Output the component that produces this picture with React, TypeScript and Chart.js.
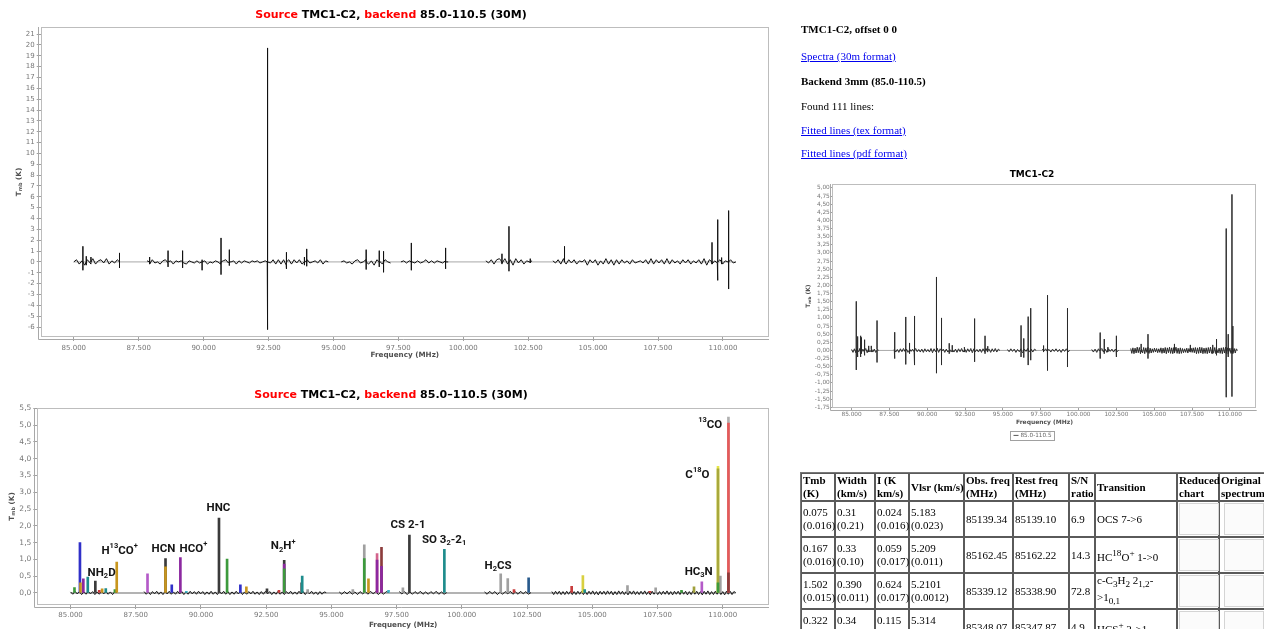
import React, { useEffect, useRef } from 'react';
import { Chart, registerables } from 'chart.js';

Chart.register(...registerables);

// ---------------- data ----------------
const segmentStart = [85000, 87820, 95300, 97600, 100870, 103450];
const segmentEnd = [86780, 94800, 97200, 99420, 102650, 110500];

const baselineFreq = [85000, 110500];
const baselineTemp = [0, 0];

// tick values
const freqTicks = [85000, 87500, 90000, 92500, 95000, 97500, 100000, 102500, 105000, 107500, 110000];
const chart1TempTicks = [-6, -5, -4, -3, -2, -1, 0, 1, 2, 3, 4, 5, 6, 7, 8, 9, 10, 11, 12, 13, 14, 15, 16, 17, 18, 19, 20, 21];
const chart2TempTicks = [0, 0.5, 1, 1.5, 2, 2.5, 3, 3.5, 4, 4.5, 5, 5.5];
const chart3TempTicks = [-1.75, -1.5, -1.25, -1, -0.75, -0.5, -0.25, 0, 0.25, 0.5, 0.75, 1, 1.25, 1.5, 1.75, 2, 2.25, 2.5, 2.75, 3, 3.25, 3.5, 3.75, 4, 4.25, 4.5, 4.75, 5];

// chart 1 (full spectrum, -6..21 K)
const chart1Noise = [
  [0, .2, -.2, .1, -.3, .2, -.1, .3, -.2, .1, .2, -.1, .3, -.2, .1, -.1, .2, 0],
  [.1, -.2, .2, -.1, 0, -.2, .1, .2, -.1, .1, -.2, .1, 0, .1, -.1, -.2, .1, 0, -.1, .1, -.1, 0, .1, -.2, 0, -.1, .1, 0, -.2, .1, .2, -.1, 0, .1, -.2, .1, -.1, .1, 0, -.1, .1, 0, .1, -.1, 0, .1, 0, -.1, .2, -.2, .2, -.2, .2, -.3, .2, -.2, .2, -.1, .2, -.2, .1, .2, -.1, 0, .1, -.1, .2, -.2, .1, 0],
  [0, .1, -.1, 0, -.2, .1, .2, -.1, 0, .2, -.2, .1, -.3, .2, .1, -.2, .2, 0, -.1],
  [0, .1, -.1, .1, 0, -.1, .1, -.1, 0, .2, -.1, .1, -.1, .1, 0, -.1, .1, 0],
  [.1, -.1, .2, -.2, .2, .3, -.1, .3, -.2, .2, -.3, .3, -.1, .2, -.2, .1, 0, .1],
  [.1, -.1, .2, -.2, .3, -.2, .2, -.1, .2, -.2, .1, 0, .2, -.3, .2, -.1, .2, -.3, .1, -.2, .3, -.2, .2, -.3, .2, -.2, .2, -.1, .1, -.2, .2, -.1, 0, .1, -.1, .2, -.2, .3, -.2, .2, -.1, .2, -.2, .3, -.2, .2, -.1, .1, -.2, .2, -.1, .2, -.2, .1, -.1, .2, -.2, .3, -.3, .2, -.2, .1, -.1, .2, -.2, .1, 0, .2, -.1, 0],
];
const chart1SpikeFreq = [85350, 85480, 85660, 86760, 87920, 88630, 89190, 89940, 90670, 90990, 92450, 92470, 93190, 93880, 93970, 96260, 96760, 96930, 98000, 99320, 101490, 101760, 102580, 103900, 109580, 109800, 109950, 110220];
const chart1SpikeHigh = [1.44, 0.52, 0.45, 0.83, 0.45, 1.04, 1.04, 0.2, 2.21, 1.13, 19.72, 2.3, 0.89, 0.45, 1.2, 1.13, 1.04, 0.98, 1.75, 1.29, 0.75, 3.28, 0.3, 1.44, 1.8, 3.9, 0.4, 4.73];
const chart1SpikeLow = [-0.77, -0.3, -0.2, -0.55, -0.2, -0.46, -0.55, -0.77, -1.17, -0.34, -6.24, -5.9, -0.64, -0.3, -0.4, -0.7, -0.46, -0.96, -0.77, -0.64, -0.2, -0.86, -0.1, 0, 0, -1.7, -0.2, -2.5];

// chart 2 (fitted lines)
const chart2Noise = [
  [.03, -.04, .05, -.03, .04, -.05, .03, -.04, .05, -.03, .04, -.05, .03, -.04, .05, -.03, .04, -.04, .03, -.05, .04, .01],
  [.04, -.04, .03, -.05, .04, -.03, .05, -.04, .03, -.05, .04, -.03, .05, -.04, .03, -.04, .05, -.03, .04, -.05, .03, -.04, .05, -.03, .04, -.04, .05, -.03, .04, -.05, .03, -.04, .05, -.04, .03, -.05, .04, -.03, .05, -.04, .04, -.05, .03, -.04, .05, -.03, .04, -.05, .03, -.04, .04, -.03, .05, -.04, .03, -.05, .04, -.04, .05, -.03, .04, -.05, .03, -.04, .05, -.04, .03, -.05, .04, -.03, .05, -.04, .03, -.04, .05, -.03, .04, -.05, .04, -.03, .05, -.04, .03, -.05, .04, -.04, .03, .01],
  [.03, -.04, .04, -.03, .05, -.04, .03, -.05, .04, -.03, .04, -.04, .05, -.03, .04, -.05, .03, -.04, .04, .01],
  [.04, -.03, .04, -.05, .03, -.04, .04, -.03, .05, -.04, .03, -.04, .04, -.03, .05, -.04, .03, -.04, .01],
  [.03, -.04, .05, -.03, .04, -.05, .03, -.04, .04, -.03, .05, -.04, .03, -.04, .05, -.03, .04, -.04, .01],
  [.04, -.05, .05, -.04, .05, -.05, .04, -.05, .05, -.04, .05, -.05, .04, -.05, .05, -.04, .05, -.05, .04, -.05, .05, -.04, .06, -.05, .04, -.06, .05, -.04, .05, -.05, .06, -.04, .05, -.06, .04, -.05, .06, -.04, .05, -.05, .04, -.06, .05, -.04, .06, -.05, .04, -.05, .05, -.04, .06, -.05, .04, -.06, .05, -.04, .05, -.05, .04, -.05, .05, -.04, .06, -.05, .04, -.06, .05, -.04, .05, -.05, .06, -.04, .05, -.06, .04, -.05, .06, -.04, .05, -.05, .04, -.06, .05, -.04, .06, -.05, .04, -.05, .05, -.04, .06, -.05, .04, -.06, .05, -.04, .05, -.05, .04, .01],
];
const fitFreq = [85150, 85360, 85380, 85490, 85660, 85950, 86100, 86210, 86350, 86700, 86770, 87950, 88640, 88880, 89210, 89440, 90690, 91000, 91510, 91740, 92530, 92990, 93190, 93860, 93880, 94090, 95820, 96260, 96420, 96750, 96920, 97190, 97740, 97990, 99330, 101490, 101760, 102000, 102560, 104210, 104640, 104710, 106350, 107210, 107430, 108420, 108900, 109200, 109820, 109910, 110220];
const fitPeak = [0.16, 1.50, 0.30, 0.42, 0.47, 0.35, 0.08, 0.12, 0.13, 0.10, 0.92, 0.57, 1.02, 0.24, 1.05, 0.05, 2.23, 1.01, 0.24, 0.18, 0.12, 0.08, 0.97, 0.30, 0.50, 0.10, 0.10, 1.43, 0.42, 1.17, 1.36, 0.08, 0.15, 1.72, 1.30, 0.57, 0.43, 0.10, 0.45, 0.20, 0.52, 0.10, 0.22, 0.05, 0.15, 0.08, 0.18, 0.33, 3.77, 0.50, 5.24];
const fitInnerFreq = [88640, 93190, 96260, 96750, 96920, 109820, 110220];
const fitInnerPeak = [0.78, 0.86, 1.02, 0.98, 0.79, 3.70, 5.06];
const fitCoreFreq = [93190, 109820, 110220];
const fitCorePeak = [0.72, 0.30, 0.60];

const labelText = ['NH_2D', 'H^13CO^+', 'HCN', 'HCO^+', 'HNC', 'N_2H^+', 'CS 2-1', 'SO 3_2-2_1', 'H_2CS', 'HC_3N', 'C^18O', '^13CO'];
const labelFreq = [86190, 86880, 88560, 89710, 90670, 93150, 97940, 99320, 101390, 109080, 109030, 109520];
const labelTemp = [0.6, 1.26, 1.31, 1.31, 2.53, 1.38, 2.02, 1.58, 0.81, 0.62, 3.51, 5.0];

// chart 3 (small TMC1-C2)
const chart3Noise = [
  [.03, -.06, .05, -.07, .06, -.04, .07, -.06, .04, -.05, .06, -.07, .05, -.04, .06, -.05, .04, -.06, .05, 0],
  [.04, -.05, .03, -.06, .05, -.04, .06, -.03, .04, -.06, .05, -.03, .04, -.05, .06, -.04, .03, -.05, .04, -.06, .05, -.04, .03, -.05, .06, -.07, .05, -.04, .07, -.06, .05, -.03, .04, -.06, .04, -.05, .06, -.04, .03, -.05, .04, -.06, .05, -.04, .06, -.05, .07, -.06, .05, -.04, .06, -.07, .05, -.04, .03, -.05, .04, -.06, .05, -.04, .06, -.05, .04, -.06, .05, -.04, .06, -.05, .04, 0],
  [.03, -.04, .05, -.03, .04, -.06, .03, -.04, .05, -.07, .04, -.03, .06, -.05, .04, -.05, .04, 0],
  [.04, -.03, .05, -.04, .03, -.05, .04, -.03, .05, -.04, .03, -.06, .04, -.03, .05, -.04, 0],
  [.03, -.05, .04, -.06, .05, -.04, .06, -.05, .04, -.06, .05, -.03, .04, -.05, .04, -.05, 0],
  [.06, -.09, .08, -.1, .07, -.08, .1, -.07, .09, -.1, .06, -.08, .09, -.1, .08, -.06, .1, -.09, .07, -.08, .05, -.06, .07, -.05, .06, -.07, .05, -.06, .08, -.09, .07, -.08, .09, -.1, .08, -.07, .1, -.09, .08, -.1, .09, -.08, .1, -.09, .07, -.1, .08, -.09, .06, -.07, .05, -.06, .07, -.08, .06, -.05, .07, -.06, .08, -.07, .09, -.1, .08, -.09, .1, -.08, .09, -.1, .07, -.09, .08, -.1, .09, -.08, .1, -.09, .08, -.07, .09, -.1, .06, -.08, .07, -.09, .08, -.1, .09, -.08, .1, -.09, .08, -.1, .07, -.09, .08, -.07, .06, -.08, .05, 0],
];
const chart3SpikeFreq = [85310, 85400, 85600, 85650, 85860, 86130, 86300, 86680, 87850, 88580, 88830, 89160, 90610, 90940, 91450, 91650, 92450, 93130, 93820, 94000, 96200, 96380, 96670, 96840, 97680, 97950, 99270, 101430, 101700, 101940, 102490, 104130, 104590, 106330, 107390, 108870, 109110, 109750, 109880, 110140, 110200];
const chart3SpikeHigh = [1.51, 0.43, 0.45, 0.4, 0.33, 0.14, 0.14, 0.92, 0.56, 1.03, 0.23, 1.06, 2.26, 1.0, 0.22, 0.16, 0.1, 0.98, 0.45, 0.13, 0.77, 0.37, 1.04, 1.3, 0.15, 1.7, 1.3, 0.55, 0.35, 0.1, 0.45, 0.2, 0.5, 0.2, 0.17, 0.17, 0.35, 3.75, 0.5, 4.8, 0.75];
const chart3SpikeLow = [-0.6, -0.2, -0.2, -0.1, -0.15, -0.05, -0.05, -0.37, -0.25, -0.43, -0.1, -0.45, -0.7, -0.45, -0.1, -0.05, -0.05, -0.35, -0.1, -0.05, -0.2, -0.22, -0.45, -0.3, -0.05, -0.62, -0.51, -0.25, -0.1, -0.05, -0.2, -0.05, -0.25, -0.05, -0.05, -0.1, -0.15, -1.44, -0.2, -1.42, -0.1];

// table
const tableHeaders = [['Tmb', '(K)'], ['Width', '(km/s)'], ['I (K', 'km/s)'], ['Vlsr (km/s)'], ['Obs. freq', '(MHz)'], ['Rest freq', '(MHz)'], ['S/N', 'ratio'], ['Transition'], ['Reduced', 'chart'], ['Original', 'spectrum']];
const rowTmb = ['0.075', '0.167', '1.502', '0.322'];
const rowTmbErr = ['(0.016)', '(0.016)', '(0.015)', '(0.015)'];
const rowWidth = ['0.31', '0.33', '0.390', '0.34'];
const rowWidthErr = ['(0.21)', '(0.10)', '(0.011)', '(0.05)'];
const rowInt = ['0.024', '0.059', '0.624', '0.115'];
const rowIntErr = ['(0.016)', '(0.017)', '(0.017)', '(0.015)'];
const rowVlsr = ['5.183', '5.209', '5.2101', '5.314'];
const rowVlsrErr = ['(0.023)', '(0.011)', '(0.0012)', '(0.005)'];
const rowObs = ['85139.34', '85162.45', '85339.12', '85348.07'];
const rowRest = ['85139.10', '85162.22', '85338.90', '85347.87'];
const rowSN = ['6.9', '14.3', '72.8', '4.9'];
const rowTransition = ['OCS 7->6', 'HC^18O^+ 1->0', 'c-C_3H_2 2_1,2->1_0,1', 'HCS^+ 2->1'];

// ---------------- styles ----------------
const RED = '#ff0000';
const SANS = 'DejaVu Sans';
const SERIF = '"Liberation Serif", "Times New Roman", serif';
const fitColors = ['#3c9a3c', '#3030c8', '#c8961e', '#8c28a0', '#1e8c8c', '#3a3a3a', '#c83c3c', '#c8961e', '#1e8c8c', '#3c9a3c', '#c8961e', '#b45ac8', '#3a3a3a', '#3030c8', '#8c28a0', '#3cb4c8', '#3a3a3a', '#3c9a3c', '#3030c8', '#c8961e', '#3a3a3a', '#c83c3c', '#3a3a3a', '#3a3a3a', '#1e8c8c', '#a0a0a0', '#a0a0a0', '#a0a0a0', '#c8961e', '#d2648c', '#8c3c3c', '#3cb4c8', '#a0a0a0', '#3a3a3a', '#1e8c8c', '#a0a0a0', '#a0a0a0', '#c83c3c', '#285a8c', '#c83c3c', '#d8d040', '#1e8c8c', '#a0a0a0', '#c83c3c', '#a0a0a0', '#3c9a3c', '#a0a03c', '#b45ac8', '#e6e646', '#a0a0a0', '#b0b0b0'];
const fitInnerColors = ['#c8961e', '#8c28a0', '#3c9a3c', '#8c28a0', '#8c28a0', '#a8a83c', '#e65a5a'];
const fitCoreColors = ['#3c9a3c', '#3c9a3c', '#8c3c3c'];

// ---------------- helpers ----------------
function fmtMHz(v: number) {
  return Math.round(v).toString().replace(/\B(?=(\d{3})+(?!\d))/g, '.');
}

function richParts(s: string) {
  const out: { t: string; k: number }[] = [];
  let i = 0;
  while (i < s.length) {
    const ch = s[i];
    if (ch === '_' || ch === '^') {
      let j = i + 1;
      let t = '';
      if (s[j] === '+') { t = '+'; j++; } else { while (j < s.length && /[0-9a-z,]/.test(s[j])) { t += s[j]; j++; } }
      out.push({ t, k: ch === '_' ? -1 : 1 });
      i = j;
    } else {
      let t = '';
      while (i < s.length && s[i] !== '_' && s[i] !== '^') { t += s[i]; i++; }
      out.push({ t, k: 0 });
    }
  }
  return out;
}

function drawRich(ctx: any, s: string, x: number, y: number, font: string, subFont: string, subDy: number, supDy: number) {
  const parts = richParts(s);
  let w = 0;
  for (const p of parts) { ctx.font = p.k ? subFont : font; w += ctx.measureText(p.t).width; }
  let cx = x - w / 2;
  for (const p of parts) {
    ctx.font = p.k ? subFont : font;
    ctx.fillText(p.t, cx, y + (p.k === -1 ? subDy : p.k === 1 ? supDy : 0));
    cx += ctx.measureText(p.t).width;
  }
}

function buildSpectrum(noise: number[][], spikeF: number[], spikeH: number[], spikeL: number[]) {
  const pts: { x: number; y: number | null }[] = [];
  segmentStart.forEach((s, i) => {
    const e = segmentEnd[i];
    const vals = noise[i];
    const seg: { x: number; y: number }[] = vals.map((v, j) => ({ x: s + ((e - s) * j) / (vals.length - 1), y: v }));
    spikeF.forEach((f, k) => {
      if (f >= s && f <= e) {
        seg.push({ x: f, y: 0 }, { x: f, y: spikeH[k] }, { x: f, y: spikeL[k] }, { x: f, y: 0 });
      }
    });
    seg.sort((a, b) => a.x - b.x);
    pts.push(...seg);
    pts.push({ x: e + 1, y: null });
  });
  return pts;
}

function baselinePoints() {
  return baselineFreq.map((x, i) => ({ x, y: baselineTemp[i] }));
}

function axis(p: any) {
  return {
    type: 'linear',
    min: p.min,
    max: p.max,
    bounds: 'data',
    offset: false,
    border: { display: false },
    grid: { display: true, drawOnChartArea: false, drawTicks: true, tickLength: p.tick, color: '#a0a0a0', offset: false },
    ticks: {
      autoSkip: false, maxRotation: 0, minRotation: 0,
      padding: p.pad, color: '#777777', font: { family: SANS, size: p.font }, callback: p.fmt,
    },
    afterBuildTicks: (s: any) => { s.ticks = p.values.map((v: number) => ({ value: v })); },
    afterFit: p.fit,
  };
}

function deco(o: any) {
  return {
    id: 'deco',
    beforeDatasetsDraw(chart: any) {
      const { ctx, chartArea: a } = chart;
      ctx.save();
      ctx.lineWidth = 1;
      ctx.strokeStyle = '#bdbdbd';
      ctx.strokeRect(Math.round(a.left) + 0.5, Math.round(a.top) + 0.5, Math.round(a.right - a.left) - 1, Math.round(a.bottom - a.top) - 1);
      ctx.strokeStyle = '#a8a8a8';
      const lx = Math.round(a.left - o.gap) - 0.5;
      const by = Math.round(a.bottom + o.gap) + 0.5;
      ctx.beginPath();
      ctx.moveTo(lx, a.top);
      ctx.lineTo(lx, by);
      ctx.lineTo(a.right, by);
      ctx.stroke();
      ctx.restore();
    },
    afterDraw(chart: any) {
      const { ctx, chartArea: a, width } = chart;
      ctx.save();
      ctx.textBaseline = 'middle';
      ctx.textAlign = 'left';
      ctx.font = o.titleFont;
      const total = o.title.reduce((s: number, p: any) => s + ctx.measureText(p.t).width, 0);
      let x = width / 2 - total / 2 + (o.titleDx || 0);
      for (const p of o.title) {
        ctx.fillStyle = p.c;
        ctx.fillText(p.t, x, o.titleY);
        x += ctx.measureText(p.t).width;
      }
      ctx.fillStyle = '#505050';
      drawRich(ctx, 'Frequency (MHz)', (a.left + a.right) / 2, o.xTitleY, o.axisFont, o.axisSubFont, 0, 0);
      ctx.save();
      ctx.translate(o.yTitleX, (a.top + a.bottom) / 2);
      ctx.rotate(-Math.PI / 2);
      drawRich(ctx, 'T_mb (K)', 0, 0, o.axisFont, o.axisSubFont, o.subDy, 0);
      ctx.restore();
      if (o.legend) {
        const L = o.legend;
        ctx.font = L.font;
        const tw = ctx.measureText(L.text).width;
        const bw = tw + L.line + 8;
        const bx = Math.round(width / 2 - bw / 2) + 0.5;
        ctx.strokeStyle = '#a0a0a0';
        ctx.strokeRect(bx, Math.round(L.cy - L.h / 2) + 0.5, Math.round(bw), Math.round(L.h));
        ctx.strokeStyle = '#555';
        ctx.beginPath();
        ctx.moveTo(bx + 3, L.cy);
        ctx.lineTo(bx + 3 + L.line, L.cy);
        ctx.stroke();
        ctx.fillStyle = '#666';
        ctx.fillText(L.text, bx + 5 + L.line, L.cy);
      }
      ctx.restore();
    },
  };
}

const labelPlugin = {
  id: 'lineLabels',
  afterDatasetsDraw(chart: any) {
    const { ctx, scales } = chart;
    ctx.save();
    ctx.textBaseline = 'middle';
    ctx.textAlign = 'left';
    ctx.fillStyle = '#151515';
    labelText.forEach((t, i) => {
      const x = scales.x.getPixelForValue(labelFreq[i]);
      const y = scales.y.getPixelForValue(labelTemp[i]);
      drawRich(ctx, t, x, y, 'bold 11.5px Roboto', 'bold 7.5px Roboto', 3.5, -4.5);
    });
    ctx.restore();
  },
};

const TITLE_FULL = [
  { t: 'Source ', c: RED }, { t: 'TMC1-C2, ', c: '#000' }, { t: 'backend ', c: RED }, { t: '85.0-110.5 (30M)', c: '#000' },
];
const TITLE_FIT = [
  { t: 'Source ', c: RED }, { t: 'TMC1\u2013C2, ', c: '#000' }, { t: 'backend ', c: RED }, { t: '85.0\u2013110.5 (30M)', c: '#000' },
];

const commonOptions = (padding: any) => ({
  responsive: false,
  animation: false,
  events: [],
  layout: { padding },
  plugins: { legend: { display: false }, title: { display: false }, tooltip: { enabled: false } },
});

function chart1Config() {
  return {
    type: 'line',
    data: {
      datasets: [
        { data: buildSpectrum(chart1Noise, chart1SpikeFreq, chart1SpikeHigh, chart1SpikeLow), borderColor: '#111', borderWidth: 1, pointRadius: 0, spanGaps: false, tension: 0 },
        { data: baselinePoints(), borderColor: '#a8a8a8', borderWidth: 1, pointRadius: 0 },
      ],
    },
    options: {
      ...commonOptions({ top: 27, right: 13, left: 0, bottom: 0 }),
      scales: {
        x: axis({ min: 83725, max: 111775, values: freqTicks, tick: 4, pad: 3, font: 7, fmt: (v: number) => fmtMHz(v), fit: (s: any) => { s.height = 25; } }),
        y: axis({ min: -6.92, max: 21.65, values: chart1TempTicks, tick: 4, pad: 2, font: 7, fmt: (v: number) => String(Math.round(v)), fit: (s: any) => { s.width = 40.7; } }),
      },
    },
    plugins: [deco({ title: TITLE_FULL, titleFont: `bold 11px "${SANS}"`, titleY: 15, xTitleY: 355, yTitleX: 19, axisFont: `bold 7.2px "${SANS}"`, axisSubFont: `bold 5px "${SANS}"`, subDy: 2, gap: 2 })],
  };
}

function chart2Config() {
  const bar = (fs: number[], ps: number[], cs: string[]) => ({
    type: 'bar', data: fs.map((x, i) => ({ x, y: ps[i] })), backgroundColor: cs, borderWidth: 0, barThickness: 2, grouped: false,
  });
  return {
    type: 'bar',
    data: {
      datasets: [
        bar(fitCoreFreq, fitCorePeak, fitCoreColors),
        bar(fitInnerFreq, fitInnerPeak, fitInnerColors),
        bar(fitFreq, fitPeak, fitColors),
        { type: 'line', data: buildSpectrum(chart2Noise, [], [], []), borderColor: '#1a1a1a', borderWidth: 1, pointRadius: 0, spanGaps: false, tension: 0 },
        { type: 'line', data: baselinePoints(), borderColor: '#9a9a9a', borderWidth: 1.5, pointRadius: 0 },
      ],
    },
    options: {
      ...commonOptions({ top: 23, right: 13, left: 0, bottom: 0 }),
      scales: {
        x: axis({ min: 83725, max: 111775, values: freqTicks, tick: 4, pad: 2, font: 7, fmt: (v: number) => fmtMHz(v), fit: (s: any) => { s.height = 24; } }),
        y: axis({ min: -0.36, max: 5.51, values: chart2TempTicks, tick: 4, pad: 2, font: 7.5, fmt: (v: number) => v.toFixed(1).replace('.', ','), fit: (s: any) => { s.width = 37.3; } }),
      },
    },
    plugins: [deco({ title: TITLE_FIT, titleFont: `bold 11px "${SANS}"`, titleY: 10, xTitleY: 240, yTitleX: 12, axisFont: `bold 7.2px "${SANS}"`, axisSubFont: `bold 5px "${SANS}"`, subDy: 2, gap: 2 }), labelPlugin],
  };
}

function chart3Config() {
  return {
    type: 'line',
    data: {
      datasets: [
        { data: buildSpectrum(chart3Noise, chart3SpikeFreq, chart3SpikeHigh, chart3SpikeLow), borderColor: '#2a2a2a', borderWidth: 1, pointRadius: 0, spanGaps: false, tension: 0 },
        { data: baselinePoints(), borderColor: '#a8a8a8', borderWidth: 1, pointRadius: 0 },
      ],
    },
    options: {
      ...commonOptions({ top: 19, right: 7.3, left: 0, bottom: 0 }),
      scales: {
        x: axis({ min: 83725, max: 111775, values: freqTicks, tick: 2, pad: 1, font: 5.8, fmt: (v: number) => fmtMHz(v), fit: (s: any) => { s.height = 41.7; } }),
        y: axis({ min: -1.78, max: 5.12, values: chart3TempTicks, tick: 2, pad: 0.5, font: 5.8, fmt: (v: number) => v.toFixed(2).replace('.', ','), fit: (s: any) => { s.width = 32.3; } }),
      },
    },
    plugins: [deco({ title: [{ t: 'TMC1-C2', c: '#000' }], titleFont: `bold 9px "${SANS}"`, titleY: 10, xTitleY: 257.3, yTitleX: 8, axisFont: `bold 6px "${SANS}"`, axisSubFont: `bold 4px "${SANS}"`, subDy: 1.5, gap: 1.5, legend: { text: '85.0-110.5', font: `5.7px "${SANS}"`, line: 5, cy: 270.4, h: 9.3 } })],
  };
}

function ChartCanvas(props: { left: number; top: number; width: number; height: number; build: () => any }) {
  const ref = useRef<HTMLCanvasElement>(null);
  useEffect(() => {
    const chart = new Chart(ref.current as HTMLCanvasElement, props.build());
    return () => chart.destroy();
  }, []);
  return (
    <canvas
      ref={ref}
      width={props.width}
      height={props.height}
      style={{ position: 'fixed', left: props.left, top: props.top, width: props.width, height: props.height }}
    />
  );
}

function Rich({ s }: { s: string }) {
  return (
    <>
      {richParts(s).map((p, i) => (p.k === 1 ? <sup key={i}>{p.t}</sup> : p.k === -1 ? <sub key={i}>{p.t}</sub> : <span key={i}>{p.t}</span>))}
    </>
  );
}

const textBase: any = { position: 'fixed', left: 801, fontFamily: SERIF, fontSize: 11, lineHeight: '13px', margin: 0, whiteSpace: 'nowrap', color: '#000' };
const linkStyle: any = { ...textBase, color: '#0000ee', textDecoration: 'underline' };
const colWidths = [34, 40, 34, 55, 49, 56, 26, 82, 42, 50];
const cellStyle: any = { border: '1px solid #5a5a5a', padding: '0 1px', verticalAlign: 'middle', whiteSpace: 'nowrap', lineHeight: '13px', textAlign: 'left' };

function Thumb() {
  return <div style={{ width: 38, height: 30, border: '1px solid #d4d4d4', background: '#fbfbfb', margin: '1px auto' }} />;
}

export default function App() {
  return (
    <div style={{ fontFamily: SERIF }}>
      <ChartCanvas left={0} top={0} width={782} height={362} build={chart1Config} />
      <ChartCanvas left={0} top={385} width={782} height={244} build={chart2Config} />
      <ChartCanvas left={800} top={165} width={464} height={285} build={chart3Config} />

      <div style={{ ...textBase, top: 23, fontWeight: 'bold' }}>TMC1-C2, offset 0 0</div>
      <a href="#" style={{ ...linkStyle, top: 50 }}>Spectra (30m format)</a>
      <div style={{ ...textBase, top: 75, fontWeight: 'bold' }}>Backend 3mm (85.0-110.5)</div>
      <div style={{ ...textBase, top: 100 }}>Found 111 lines:</div>
      <a href="#" style={{ ...linkStyle, top: 124 }}>Fitted lines (tex format)</a>
      <a href="#" style={{ ...linkStyle, top: 147 }}>Fitted lines (pdf format)</a>

      <table
        style={{
          position: 'fixed', left: 800, top: 472, borderCollapse: 'separate', borderSpacing: 0, tableLayout: 'fixed',
          width: colWidths.reduce((a, b) => a + b, 0) + 2, border: '1px solid #777', fontFamily: SERIF, fontSize: 11,
        }}
      >
        <colgroup>
          {colWidths.map((w, i) => <col key={i} style={{ width: w }} />)}
        </colgroup>
        <tbody>
          <tr>
            {tableHeaders.map((h, i) => (
              <td key={i} style={{ ...cellStyle, height: 25, fontWeight: 'bold' }}>
                {h.map((line, j) => <div key={j}>{line}</div>)}
              </td>
            ))}
          </tr>
          {rowTmb.map((_, r) => (
            <tr key={r}>
              <td style={{ ...cellStyle, height: 33 }}><div>{rowTmb[r]}</div><div>{rowTmbErr[r]}</div></td>
              <td style={cellStyle}><div>{rowWidth[r]}</div><div>{rowWidthErr[r]}</div></td>
              <td style={cellStyle}><div>{rowInt[r]}</div><div>{rowIntErr[r]}</div></td>
              <td style={cellStyle}><div>{rowVlsr[r]}</div><div>{rowVlsrErr[r]}</div></td>
              <td style={cellStyle}>{rowObs[r]}</td>
              <td style={cellStyle}>{rowRest[r]}</td>
              <td style={cellStyle}>{rowSN[r]}</td>
              <td style={{ ...cellStyle, whiteSpace: 'normal' }}><Rich s={rowTransition[r]} /></td>
              <td style={cellStyle}><Thumb /></td>
              <td style={cellStyle}><Thumb /></td>
            </tr>
          ))}
        </tbody>
      </table>
    </div>
  );
}
